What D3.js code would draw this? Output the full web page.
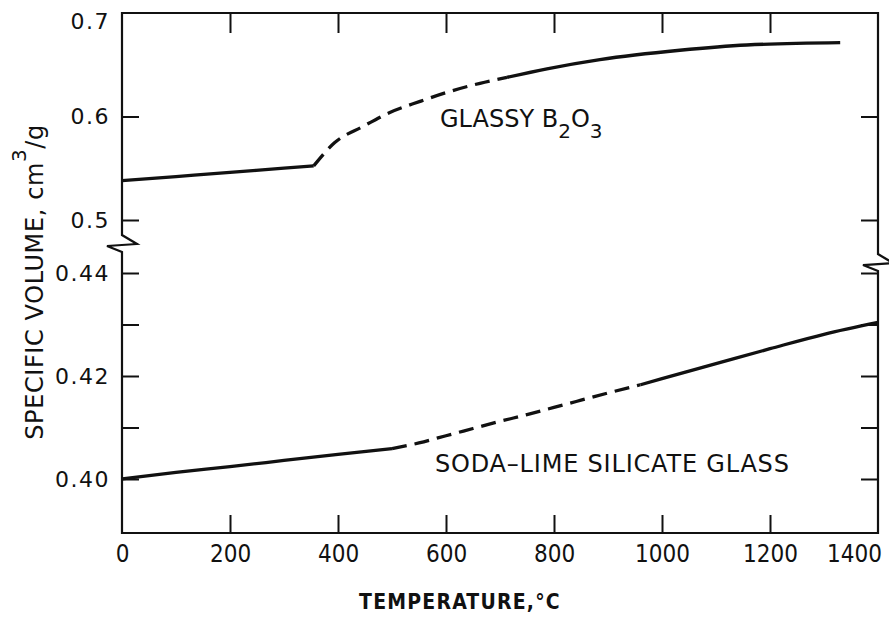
<!DOCTYPE html>
<html><head><meta charset="utf-8">
<script src="https://cdn.jsdelivr.net/npm/d3@7"></script>
<style>body{margin:0;background:#fff}</style>
</head><body>
<svg id="c" width="889" height="625"></svg>
<script>
// ---- data ----
const xTickValues = [0, 200, 400, 600, 800, 1000, 1200, 1400];
const xTickLabels = ["0", "200", "400", "600", "800", "1000", "1200", "1400"];
const yUpperTickValues = [0.5, 0.6, 0.7];
const yUpperTickLabels = ["0.5", "0.6", "0.7"];
const yLowerTickValues = [0.40, 0.41, 0.42, 0.43, 0.44];
const yLowerTickLabels = ["0.40", "", "0.42", "", "0.44"];

// Glassy B2O3 (upper panel): [temperature °C, specific volume cm3/g]
const b2o3Solid1 = [[0, 0.5380], [100, 0.5420], [200, 0.5460], [300, 0.5501], [355, 0.5523]];
const b2o3Dashed = [[355, 0.5523], [394, 0.5748], [446, 0.5903], [496, 0.6039], [552, 0.6146], [602, 0.6234], [663, 0.6321], [713, 0.6378]];
const b2o3Solid2 = [[713, 0.6378], [787, 0.6461], [885, 0.6550], [1033, 0.6640], [1157, 0.6691], [1330, 0.6714]];

// Soda-lime silicate glass (lower panel)
const sodaSolid1 = [[0, 0.4000], [100, 0.4013], [200, 0.4024], [300, 0.4036], [400, 0.4048], [500, 0.4059]];
const sodaDashed = [[500, 0.4059], [550, 0.4070], [600, 0.4084], [650, 0.4098], [700, 0.4112], [750, 0.4125], [800, 0.4139], [850, 0.4153], [900, 0.4167], [960, 0.4183]];
const sodaSolid2 = [[960, 0.4183], [1000, 0.4195], [1100, 0.4224], [1200, 0.4253], [1300, 0.4281], [1400, 0.4304]];

// ---- layout ----
const L = 122, R = 878, T = 13, B = 533;
const svg = d3.select("#c");
const x = d3.scaleLinear().domain([0, 1400]).range([L, R]);
const yU = d3.scaleLinear().domain([0.5, 0.7]).range([220, 13]);
const yL = d3.scaleLinear().domain([0.40, 0.44]).range([479, 273]);

const ink = "#111";
const tickFont = "'DejaVu Sans', sans-serif";

// frame with axis breaks
const zig = [[0, 0], [15, 9], [-15, 11], [0, 17]];
const leftBreakTop = yU(0.4855), rightBreakTop = yU(0.4671);
function framePath() {
  const p = d3.path();
  p.moveTo(L, T);
  zig.forEach(([dx, dy]) => p.lineTo(L + dx, leftBreakTop + dy));
  p.lineTo(L, B);
  p.lineTo(R, B);
  p.lineTo(R, rightBreakTop + 17);
  zig.slice().reverse().forEach(([dx, dy]) => p.lineTo(R + dx, rightBreakTop + dy));
  p.lineTo(R, T);
  p.closePath();
  return p.toString();
}
svg.append("path").attr("d", framePath()).attr("fill", "none")
  .attr("stroke", ink).attr("stroke-width", 2.2).attr("stroke-linejoin", "miter");

function styleAxis(g) {
  g.select(".domain").remove();
  g.selectAll(".tick line").attr("stroke", ink).attr("stroke-width", 2);
  g.selectAll(".tick text").attr("fill", ink);
}

// left axes
const gLU = svg.append("g").attr("transform", `translate(${L},0)`)
  .call(d3.axisLeft(yU).tickValues(yUpperTickValues).tickSize(-17).tickPadding(12)
    .tickFormat((d, i) => yUpperTickLabels[i]));
const gLL = svg.append("g").attr("transform", `translate(${L},0)`)
  .call(d3.axisLeft(yL).tickValues(yLowerTickValues).tickSize(-17).tickPadding(12)
    .tickFormat((d, i) => yLowerTickLabels[i]));
[gLU, gLL].forEach(g => {
  styleAxis(g);
  g.selectAll(".tick text").attr("font-family", tickFont).attr("font-size", 22)
    .attr("letter-spacing", 1.5);
});
gLU.selectAll(".tick").filter(d => d === 0.7).select("line").remove();
gLU.selectAll(".tick").filter(d => d === 0.7).select("text").attr("dy", "0.72em");

// right axes
const gRU = svg.append("g").attr("transform", `translate(${R},0)`)
  .call(d3.axisRight(yU).tickValues(yUpperTickValues.filter(v => v < 0.7)).tickSize(-17).tickFormat(""));
const gRL = svg.append("g").attr("transform", `translate(${R},0)`)
  .call(d3.axisRight(yL).tickValues(yLowerTickValues).tickSize(-17).tickFormat(""));
styleAxis(gRU); styleAxis(gRL);

// top axis
const gT = svg.append("g").attr("transform", `translate(0,${T})`)
  .call(d3.axisTop(x).tickValues(xTickValues.slice(1, -1)).tickSize(-20).tickFormat(""));
styleAxis(gT);

// bottom axis
const gB = svg.append("g").attr("transform", `translate(0,${B})`)
  .call(d3.axisBottom(x).tickValues(xTickValues).tickSize(-18).tickPadding(12)
    .tickFormat((d, i) => xTickLabels[i]));
styleAxis(gB);
gB.selectAll(".tick").filter(d => d === 0 || d === 1400).select("line").remove();
gB.selectAll(".tick text").attr("font-family", "'DejaVu Sans Condensed', 'DejaVu Sans', sans-serif")
  .attr("font-size", 24);
gB.selectAll(".tick").filter(d => d === 1400).select("text").attr("dx", -24);

// curves
const lineU = d3.line().x(d => x(d[0])).y(d => yU(d[1])).curve(d3.curveMonotoneX);
const lineL = d3.line().x(d => x(d[0])).y(d => yL(d[1])).curve(d3.curveMonotoneX);
function drawCurve(data, gen, dashed) {
  svg.append("path").datum(data).attr("d", gen).attr("fill", "none")
    .attr("stroke", ink).attr("stroke-width", 3.3)
    .attr("stroke-dasharray", dashed ? "15,8" : null);
}
drawCurve(b2o3Solid1, lineU, false);
drawCurve(b2o3Dashed, lineU, true);
drawCurve(b2o3Solid2, lineU, false);
drawCurve(sodaSolid1, lineL, false);
drawCurve(sodaDashed, lineL, true);
drawCurve(sodaSolid2, lineL, false);

// curve labels
const lblFont = "'DejaVu Sans', sans-serif";
const g1 = svg.append("text").attr("x", 440).attr("y", 127).attr("font-family", lblFont)
  .attr("font-size", 24).attr("fill", ink);
g1.append("tspan").text("GLASSY B");
g1.append("tspan").attr("dy", 11).attr("font-size", 20).text("2");
g1.append("tspan").attr("dy", -11).text("O");
g1.append("tspan").attr("dy", 11).attr("font-size", 20).text("3");

svg.append("text").attr("x", 435).attr("y", 472).attr("font-family", lblFont)
  .attr("font-size", 24).attr("letter-spacing", 0.8).attr("fill", ink)
  .text("SODA–LIME SILICATE GLASS");

// axis titles
svg.append("text").attr("x", 460).attr("y", 609).attr("text-anchor", "middle")
  .attr("font-family", "'DejaVu Sans Condensed', 'DejaVu Sans', sans-serif")
  .attr("font-size", 21).attr("font-weight", "bold").attr("letter-spacing", 1.2)
  .attr("fill", ink).text("TEMPERATURE,°C");

const yt = svg.append("text").attr("transform", "translate(43,282) rotate(-90)")
  .attr("text-anchor", "middle").attr("font-family", lblFont).attr("font-size", 24)
  .attr("letter-spacing", 0.6).attr("fill", ink);
yt.append("tspan").text("SPECIFIC VOLUME, cm");
yt.append("tspan").attr("dy", -17).attr("font-size", 20).text("3");
yt.append("tspan").attr("dy", 17).text("/g");
</script>
</body></html>
